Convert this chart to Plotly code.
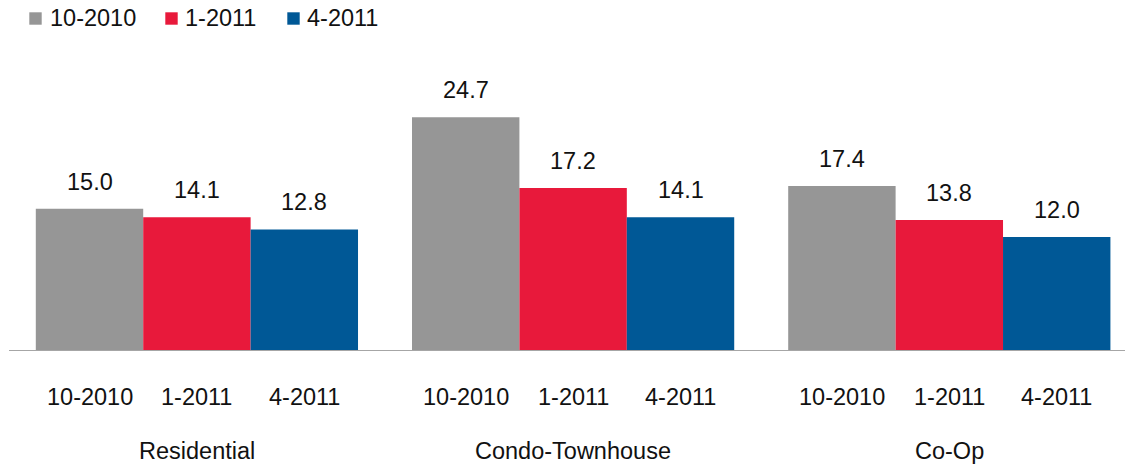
import plotly.graph_objects as go

groups = ["Residential", "Condo-Townhouse", "Co-Op"]
periods = ["10-2010", "1-2011", "4-2011"]
values = {
    "10-2010": [15.0, 24.7, 17.4],
    "1-2011": [14.1, 17.2, 13.8],
    "4-2011": [12.8, 14.1, 12.0],
}
colors = ["#969696", "#E8193B", "#005896"]

W, H = 1125, 464
ML, MR, MT, MB = 9, 0, 67, 114
PW = W - ML - MR
PH = H - MT - MB
FONT = "Liberation Sans, Arial, Helvetica, sans-serif"
FS = 23.5

bargap = 0.1435
barw = (1 - bargap) / 3
xr = [-0.4995, 2.467]
yr = [0, 30.04]

fig = go.Figure()
gx = list(range(len(groups)))
for i, p in enumerate(periods):
    fig.add_trace(go.Bar(
        x=gx, y=values[p], name=p,
        marker=dict(color=colors[i], line=dict(width=0)),
        showlegend=False,
    ))

annotations = []
for i, p in enumerate(periods):
    for g, v in enumerate(values[p]):
        xc = g + (i - 1) * barw
        annotations.append(dict(
            x=xc, y=v, xref="x", yref="y", text=f"{v:.1f}", showarrow=False,
            yanchor="middle", yshift=27, font=dict(size=FS, color="#111111", family=FONT)))
        annotations.append(dict(
            x=xc, y=0, xref="x", yref="paper", text=p, showarrow=False,
            yanchor="middle", yshift=-47, font=dict(size=FS, color="#111111", family=FONT)))
for g, name in enumerate(groups):
    annotations.append(dict(
        x=g, y=0, xref="x", yref="paper", text=name, showarrow=False,
        yanchor="middle", yshift=-101, font=dict(size=FS, color="#111111", family=FONT)))

# manual legend
def px_x(px):
    return (px - ML) / PW

def px_y(py):
    return (MT + PH - py) / PH

shapes = []
leg_sq = [29.3, 165.3, 287.3]
leg_tx = [47.7, 183.3, 305.0]
for i, p in enumerate(periods):
    shapes.append(dict(type="rect", xref="paper", yref="paper",
                       x0=px_x(leg_sq[i]), x1=px_x(leg_sq[i] + 12.4),
                       y0=px_y(24.7), y1=px_y(12.3),
                       fillcolor=colors[i], line=dict(width=0)))
    annotations.append(dict(x=px_x(leg_tx[i]), y=px_y(18.5), xref="paper", yref="paper",
                            text=p, showarrow=False, xanchor="left", yanchor="middle",
                            font=dict(size=FS, color="#111111", family=FONT)))

fig.update_layout(
    width=W, height=H,
    margin=dict(l=ML, r=MR, t=MT, b=MB, pad=0),
    barmode="group", bargap=bargap, bargroupgap=0,
    plot_bgcolor="white", paper_bgcolor="white",
    font=dict(family=FONT, size=FS, color="#111111"),
    xaxis=dict(range=xr, showticklabels=False, ticks="", showgrid=False, zeroline=False,
               showline=True, linecolor="#a6a6a6", linewidth=1.2),
    yaxis=dict(range=yr, visible=False, showgrid=False, zeroline=False),
    annotations=annotations, shapes=shapes,
)

fig.write_html("out.html")
